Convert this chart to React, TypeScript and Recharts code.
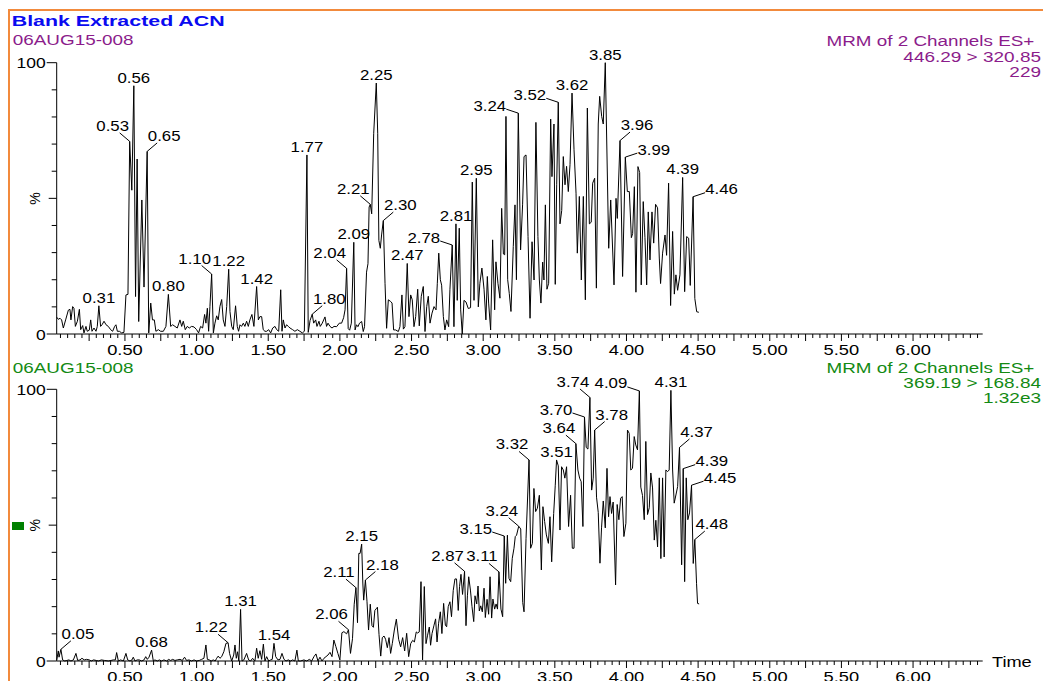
import React from "react";
import { LineChart, Line, XAxis, YAxis, LabelList } from "recharts";

type Pt = [number, number, string?];

// Top trace: MRM 446.29 > 320.85  (time, % intensity, peak label)
const TOP_TRACE: Pt[] = [
  [0.024, 6.2], [0.035, 5.4], [0.047, 5.8], [0.058, 5.2], [0.07, 2.2], [0.086, 5.2], [0.105, 8.8],
  [0.116, 9.1], [0.123, 5.2], [0.135, 10.1], [0.144, 9.5], [0.154, 2.8], [0.168, 4.7], [0.182, 9.1],
  [0.191, 1.6], [0.205, 3.1], [0.214, 0.4], [0.228, 2.8], [0.237, 1], [0.251, 1.4], [0.261, 5.2],
  [0.27, 1], [0.284, 2.2], [0.298, 1], [0.307, 2.8], [0.318, 10.4, "0.31"], [0.33, 2.8], [0.34, 3.4],
  [0.354, 4.7], [0.368, 3.4], [0.384, 2.8], [0.4, 1.6], [0.414, 1], [0.428, 2.8], [0.437, 3.4],
  [0.447, 1], [0.461, 1], [0.477, 0.4], [0.493, 0.6], [0.507, 14.4], [0.521, 14.6], [0.533, 71, "0.53"],
  [0.548, 53], [0.562, 91.5, "0.56"], [0.574, 13.8], [0.585, 64.5], [0.596, 4.6], [0.618, 49.4],
  [0.633, 17.3], [0.655, 67.3, "0.65"], [0.666, 0.4], [0.68, 11.4], [0.692, 5.2], [0.705, 5.2],
  [0.716, 1], [0.733, 1.6], [0.749, 1], [0.768, 1], [0.786, 2.8], [0.803, 14.6, "0.80"], [0.819, 2.8],
  [0.833, 3.4], [0.849, 2.8], [0.865, 2.2], [0.884, 5.2], [0.896, 2.8], [0.907, 4.7], [0.921, 1.6],
  [0.935, 2.8], [0.949, 2.2], [0.965, 2.8], [0.982, 2.6], [1.0, 1.6], [1.014, 0.4], [1.028, 2.8],
  [1.042, 2.2], [1.056, 7.2], [1.065, 4], [1.075, 9.5], [1.084, 1], [1.093, 10.1], [1.105, 22.1, "1.10"],
  [1.117, 0.4], [1.128, 4], [1.14, 6.7], [1.151, 5.2], [1.163, 10.2], [1.175, 12.7], [1.186, 5.2],
  [1.198, 2.8], [1.21, 10.1], [1.224, 23.9, "1.22"], [1.233, 8.3], [1.245, 2.8], [1.256, 1.6],
  [1.272, 10.4], [1.284, 2.8], [1.293, 1], [1.303, 3.4], [1.314, 2.8], [1.326, 4], [1.337, 2.8],
  [1.349, 4.7], [1.361, 2.8], [1.372, 5.2], [1.386, 7.2], [1.4, 2.8], [1.419, 17.5, "1.42"], [1.431, 5.2],
  [1.442, 6.4], [1.454, 6.4], [1.465, 1.6], [1.477, 1], [1.489, 1], [1.503, 1.6], [1.517, 0.4],
  [1.531, 2.2], [1.547, 2.8], [1.559, 1.6], [1.573, 1], [1.587, 16.3], [1.596, 1], [1.605, 5.2],
  [1.617, 2.2], [1.628, 3.4], [1.64, 2.8], [1.652, 2.2], [1.67, 1.6], [1.686, 1], [1.703, 1.6],
  [1.721, 1], [1.738, 0.4], [1.752, 1], [1.77, 66, "1.77"], [1.779, 0.6], [1.792, 5], [1.807, 7.3, "1.80"],
  [1.817, 4], [1.831, 5.2], [1.84, 2.8], [1.854, 4.7], [1.863, 2.8], [1.877, 4], [1.896, 6.3],
  [1.907, 2.8], [1.917, 4], [1.931, 2.8], [1.945, 2.2], [1.959, 2.8], [1.977, 2.7], [1.996, 4],
  [2.012, 4], [2.026, 6], [2.036, 8.9], [2.047, 24.2, "2.04"], [2.058, 2], [2.068, 1.4], [2.08, 4],
  [2.097, 33.8, "2.09"], [2.106, 1.5], [2.116, 3.4], [2.126, 2.7], [2.137, 4], [2.152, 4.6], [2.163, 0.9],
  [2.172, 2.7], [2.186, 22.8], [2.196, 25.9], [2.204, 46.8], [2.212, 47.8, "2.21"], [2.222, 44.3],
  [2.236, 74], [2.254, 92.5, "2.25"], [2.264, 74], [2.272, 34.5], [2.282, 31.6], [2.291, 36.5],
  [2.303, 41.8, "2.30"], [2.315, 18.7], [2.326, 2.1], [2.338, 12.6], [2.354, 12], [2.364, 11.4],
  [2.375, 1.5], [2.389, 1.5], [2.408, 0.9], [2.419, 2.7], [2.433, 14.4], [2.443, 1.8], [2.454, 2.7],
  [2.47, 26, "2.47"], [2.482, 6.4], [2.494, 14.4], [2.505, 12.6], [2.517, 2.7], [2.529, 6.4],
  [2.543, 16.5], [2.554, 3], [2.568, 13.9], [2.582, 17.5], [2.594, 0.9], [2.606, 10.1], [2.617, 13.9],
  [2.629, 4], [2.643, 7.7], [2.657, 10.1], [2.671, 8.9], [2.68, 18.7], [2.69, 29.8], [2.701, 20],
  [2.71, 18], [2.722, 6.4], [2.733, 1.5], [2.745, 5.2], [2.759, 2.7], [2.768, 16.5], [2.784, 32.8, "2.78"],
  [2.796, 2.7], [2.81, 40.6, "2.81"], [2.819, 12.4], [2.833, 39], [2.843, 8.9], [2.854, 0], [2.866, 12.4],
  [2.88, 11.8], [2.896, 9.4], [2.912, 9.7], [2.924, 56], [2.936, 12.4], [2.952, 57.4, "2.95"],
  [2.966, 10], [2.977, 18.7], [2.991, 24.3], [3.006, 16.5], [3.019, 5.2], [3.029, 21.2], [3.038, 11.4],
  [3.052, 1.5], [3.066, 34.7], [3.08, 8.9], [3.089, 26.6], [3.103, 18.7], [3.117, 13.2], [3.129, 46.3],
  [3.141, 29.5], [3.15, 29.2], [3.159, 80.2], [3.171, 20], [3.182, 15], [3.194, 8.3], [3.21, 32.2],
  [3.222, 47.6], [3.232, 20], [3.245, 81.4, "3.24"], [3.261, 31], [3.275, 47.6], [3.285, 65.4],
  [3.299, 66], [3.313, 35.9], [3.327, 5.8], [3.341, 34], [3.355, 19.9], [3.368, 78], [3.382, 36],
  [3.392, 19.9], [3.403, 11.4], [3.415, 26.5], [3.424, 19.9], [3.434, 47.6], [3.445, 16.5],
  [3.457, 18.7], [3.471, 79.2], [3.48, 58], [3.494, 77.4], [3.503, 18.3], [3.513, 55],
  [3.524, 85.4, "3.52"], [3.536, 40.6], [3.548, 45.5], [3.559, 65.4], [3.571, 55], [3.582, 61.8],
  [3.594, 52.5], [3.606, 62.5], [3.62, 88.8, "3.62"], [3.634, 67.9], [3.648, 51.9], [3.657, 29.8],
  [3.671, 50.7], [3.685, 19.9], [3.699, 50.7], [3.713, 12.6], [3.727, 83.3], [3.741, 40.6],
  [3.754, 41.2], [3.764, 55.6], [3.778, 57.4], [3.79, 16.9], [3.803, 77.4], [3.813, 87.6],
  [3.827, 80.2], [3.838, 77.4], [3.852, 100, "3.85"], [3.876, 31.6], [3.89, 49.4], [3.913, 18.1],
  [3.927, 50], [3.936, 42.6], [3.955, 71.3, "3.96"], [3.973, 21.2], [3.992, 65.2, "3.99"], [4.006, 52.5],
  [4.02, 52.5], [4.034, 35.5], [4.043, 37], [4.055, 54.3], [4.066, 15.4], [4.08, 61.7], [4.092, 59.5],
  [4.103, 18.1], [4.117, 48.8], [4.129, 35.5], [4.141, 18.1], [4.152, 45], [4.164, 27.3], [4.178, 45],
  [4.19, 33.5], [4.203, 47.8], [4.217, 46.5], [4.229, 28], [4.238, 18.6], [4.252, 29.8], [4.269, 36.5],
  [4.28, 29], [4.294, 55.6], [4.308, 10.5], [4.322, 37.8], [4.334, 14.7], [4.345, 21.8], [4.357, 16.1],
  [4.373, 21.8], [4.392, 57.7, "4.39"], [4.406, 15.6], [4.42, 35.9], [4.434, 35.3], [4.445, 17.9],
  [4.465, 50.6, "4.46"], [4.477, 13.1], [4.49, 8.2], [4.505, 8],
];

// Bottom trace: MRM 369.19 > 168.84
const BOTTOM_TRACE: Pt[] = [
  [0.024, 0.4], [0.035, 3.7], [0.04, 1.4], [0.053, 4.3, "0.05"], [0.065, 0.4], [0.08, 0], [0.095, 0.2],
  [0.109, 0.4], [0.123, 0], [0.14, 0.4], [0.158, 2.8], [0.17, 0.2], [0.186, 0.4], [0.2, 1], [0.216, 0.4],
  [0.232, 0.6], [0.251, 0.4], [0.265, 0], [0.281, 0.4], [0.3, 0.2], [0.316, 0], [0.335, 0.4],
  [0.358, 0.2], [0.384, 0], [0.403, 0.2], [0.419, 0.4], [0.433, 0.4], [0.442, 3.1], [0.454, 0],
  [0.47, 0.4], [0.489, 0], [0.507, 2.8], [0.519, 0.4], [0.535, 0], [0.549, 0.4], [0.558, 1.4],
  [0.57, 0], [0.586, 0.4], [0.6, 0.4], [0.617, 0], [0.633, 0.4], [0.645, 1.6], [0.656, 0.6],
  [0.668, 1.4], [0.686, 4, "0.68"], [0.698, 0], [0.709, 0.4], [0.726, 0], [0.74, 0.4], [0.756, 0],
  [0.772, 0.4], [0.791, 0], [0.805, 0.6], [0.819, 0.2], [0.833, 0.6], [0.849, 0.2], [0.865, 0.4],
  [0.884, 0.6], [0.9, 0.2], [0.916, 1.4], [0.93, 0.2], [0.947, 0.4], [0.965, 0], [0.982, 0.4],
  [1.0, 0], [1.019, 0.2], [1.035, 0.6], [1.051, 1], [1.065, 5.9], [1.075, 0.6], [1.088, 0.4],
  [1.102, 0], [1.116, 0.4], [1.13, 0], [1.14, 1], [1.151, 1.8], [1.163, 1], [1.175, 1.6], [1.19, 3.4],
  [1.205, 6.5], [1.22, 6.7, "1.22"], [1.23, 2.8], [1.245, 0], [1.259, 2.2], [1.268, 5.9], [1.277, 1],
  [1.286, 3.4], [1.295, 0], [1.307, 19, "1.31"], [1.317, 0], [1.33, 0.4], [1.349, 2.8], [1.363, 0.4],
  [1.377, 0], [1.391, 1], [1.407, 0], [1.419, 4.7], [1.43, 1], [1.442, 3.8], [1.454, 0.6], [1.466, 6.2],
  [1.477, 0], [1.489, 1.6], [1.503, 0], [1.517, 0.4], [1.528, 0.6], [1.54, 6.5, "1.54"], [1.552, 1.6],
  [1.568, 0.4], [1.582, 0.6], [1.596, 2.8], [1.61, 0.6], [1.624, 0], [1.64, 0.4], [1.656, 0],
  [1.67, 0.4], [1.686, 0], [1.7, 4], [1.71, 0], [1.726, 0], [1.749, 0.4], [1.768, 0], [1.787, 0.6],
  [1.803, 0], [1.819, 1.6], [1.833, 2.6], [1.847, 0], [1.861, 1.4], [1.875, 0], [1.889, 1],
  [1.903, 1.6], [1.917, 2.2], [1.931, 3.2], [1.945, 1.6], [1.958, 7.7], [1.972, 5.3], [1.986, 2.8],
  [2.0, 0.4], [2.014, 10.4], [2.028, 10.8], [2.047, 10], [2.06, 11.5, "2.06"], [2.074, 2.8],
  [2.088, 8.2], [2.1, 20.9], [2.112, 27, "2.11"], [2.123, 14.1], [2.132, 39.6], [2.141, 39.6],
  [2.152, 43, "2.15"], [2.16, 28.7], [2.166, 22.4], [2.178, 29.8, "2.18"], [2.189, 22], [2.2, 11.4],
  [2.212, 20.9], [2.224, 13], [2.234, 12.4], [2.244, 18.6], [2.253, 19.2], [2.262, 19.8], [2.273, 9.8],
  [2.285, 1.8], [2.296, 8.6], [2.308, 9.2], [2.319, 8], [2.331, 4.9], [2.343, 8.6], [2.354, 2.8],
  [2.366, 6.5], [2.38, 11.4], [2.394, 15.4], [2.41, 8], [2.424, 5.2], [2.438, 8.6], [2.452, 3.7],
  [2.466, 10.2], [2.48, 1.6], [2.494, 6.4], [2.508, 7.6], [2.52, 7], [2.533, 10.7], [2.542, 10.3],
  [2.554, 10.7], [2.566, 29.2], [2.577, 0.4], [2.589, 27.4], [2.601, 6.4], [2.612, 9.5], [2.624, 12.5],
  [2.633, 5.8], [2.643, 10.1], [2.657, 13.2], [2.668, 15.5], [2.678, 7], [2.689, 13.9], [2.701, 18.1],
  [2.712, 10.1], [2.724, 21.2], [2.736, 13.2], [2.745, 12.6], [2.756, 20], [2.768, 21.8], [2.779, 16.3],
  [2.791, 25.9], [2.803, 30.2], [2.814, 30.2], [2.826, 18.6], [2.835, 27.4], [2.845, 31.9],
  [2.856, 24.5], [2.87, 33, "2.87"], [2.88, 13], [2.89, 24], [2.899, 31], [2.911, 26.1], [2.922, 20],
  [2.934, 14.5], [2.943, 24], [2.955, 21], [2.964, 27.6], [2.973, 18.4], [2.983, 20.3], [2.994, 18.1],
  [3.006, 26.8], [3.015, 16], [3.027, 22.7], [3.038, 17.2], [3.048, 31], [3.059, 15.8], [3.068, 22.8],
  [3.08, 19.1], [3.09, 21], [3.1, 19.1], [3.11, 32.8, "3.11"], [3.124, 19.1], [3.136, 16.3],
  [3.147, 46, "3.15"], [3.157, 28.6], [3.169, 46.3], [3.18, 30.4], [3.192, 29.2], [3.203, 37.8],
  [3.215, 41.5], [3.224, 45.8], [3.233, 46.3], [3.248, 49.6, "3.24"], [3.262, 48.6], [3.276, 21.5],
  [3.285, 18.1], [3.299, 45], [3.32, 74, "3.32"], [3.331, 41.5], [3.343, 43.3], [3.354, 63.5],
  [3.366, 55], [3.378, 56.2], [3.392, 61], [3.406, 33.5], [3.417, 56.8], [3.429, 51.3], [3.441, 46.4],
  [3.455, 43.3], [3.466, 53.1], [3.478, 36.5], [3.492, 54.3], [3.503, 64.7], [3.512, 74, "3.51"],
  [3.524, 71.8], [3.536, 48.2], [3.547, 71.5], [3.559, 70.3], [3.57, 67.3], [3.582, 71.5], [3.596, 49.5],
  [3.61, 61], [3.622, 41.5], [3.634, 41.5], [3.647, 80, "3.64"], [3.661, 70.3], [3.673, 67.3],
  [3.684, 66], [3.696, 49.5], [3.707, 89.8, "3.70"], [3.719, 78.6], [3.731, 78], [3.745, 97, "3.74"],
  [3.757, 62.9], [3.768, 67.3], [3.778, 85, "3.78"], [3.791, 60.3], [3.803, 54.7], [3.815, 36],
  [3.826, 49], [3.838, 58.9], [3.852, 49], [3.864, 70.9], [3.875, 53.1], [3.885, 60.5], [3.896, 54.3],
  [3.907, 58.5], [3.924, 28], [3.935, 57.6], [3.947, 52], [3.959, 59.9], [3.97, 60.5], [3.982, 45.8],
  [3.996, 50.7], [4.007, 85], [4.019, 83.8], [4.03, 70.3], [4.042, 70.9], [4.054, 82.6], [4.065, 79.5],
  [4.077, 77.7], [4.09, 99.4, "4.09"], [4.1, 64], [4.112, 60.9], [4.124, 52], [4.135, 80.8],
  [4.147, 53.9], [4.159, 56.4], [4.17, 69.2], [4.182, 63.7], [4.194, 44.5], [4.205, 51.8], [4.217, 42],
  [4.229, 67.4], [4.24, 37.7], [4.252, 67.4], [4.263, 38.3], [4.275, 70.3], [4.287, 69.7],
  [4.298, 70.3], [4.31, 99.6, "4.31"], [4.322, 70.3], [4.333, 58.1], [4.345, 61.1], [4.357, 64.2],
  [4.37, 78.6, "4.37"], [4.385, 35.4], [4.396, 70.8, "4.39"], [4.406, 29.2], [4.417, 67.4], [4.428, 52],
  [4.44, 54.5], [4.454, 64.7, "4.45"], [4.466, 35.9], [4.477, 44.7, "4.48"], [4.489, 28.6],
  [4.496, 21.2], [4.507, 21],
];

const X_TICK_LABELS = ["0.50", "1.00", "1.50", "2.00", "2.50", "3.00", "3.50", "4.00", "4.50", "5.00", "5.50", "6.00"];
const Y_TICKS = [0, 10, 20, 30, 40, 50, 60, 70, 80, 90, 100];
const X_DOMAIN: [number, number] = [0.0237, 6.486];

// label placement per peak (c = above, ul/ur = diagonal leader, l/r = side leader)
const TOP_SIDES: Record<string, string> = {
  "0.53": "ul", "0.65": "ur", "1.10": "ul", "1.80": "ur", "2.04": "ul", "2.21": "ul", "2.30": "ur",
  "2.78": "l", "3.24": "l", "3.52": "l", "3.96": "ur", "3.99": "r", "4.46": "r",
};
const BOTTOM_SIDES: Record<string, string> = {
  "0.05": "ur", "1.22": "ul", "2.06": "ul", "2.11": "ul", "2.18": "ur", "2.87": "ul", "3.11": "ul",
  "3.15": "l", "3.24": "ul", "3.32": "ul", "3.64": "ul", "3.70": "l", "3.74": "ul", "3.78": "ur",
  "4.09": "l", "4.37": "ur", "4.39": "r", "4.45": "r", "4.48": "ur",
};

const FONT = "'Liberation Sans', Arial, Helvetica, sans-serif";

const xTicks: number[] = [];
for (let i = 1; i <= 129; i++) xTicks.push(Math.round(i * 5) / 100);

const toRows = (pts: Pt[]) => pts.map(([t, v, lab]) => ({ t, v, lab }));
const topData = toRows(TOP_TRACE);
const bottomData = toRows(BOTTOM_TRACE);

function XTick(props: any) {
  const { x, y, payload } = props;
  const q = Math.round(payload.value * 100);
  const major = q % 25 === 0;
  const lab = X_TICK_LABELS.find((s) => Math.round(parseFloat(s) * 100) === q);
  return (
    <g>
      <line x1={x} x2={x} y1={y} y2={y + (major ? 7 : 4)} stroke="#000" strokeWidth={1} />
      {lab && (
        <text transform={`translate(${x},${y + 21}) scale(1.22,1)`} textAnchor="middle" fontSize={15} fontFamily={FONT} fill="#000">
          {lab}
        </text>
      )}
    </g>
  );
}

function YTick(props: any) {
  const { x, y, payload } = props;
  const v = payload.value;
  const end = v === 0 || v === 100;
  const len = end ? 10 : v === 50 ? 8 : 5;
  return (
    <g>
      <line x1={x - len} x2={x} y1={y} y2={y} stroke="#000" strokeWidth={1} />
      {end && (
        <text transform={`translate(${x - 11},${y + 5.5}) scale(1.25,1)`} textAnchor="end" fontSize={14} fontFamily={FONT} fill="#000">
          {v}
        </text>
      )}
    </g>
  );
}

const makePeakLabel = (sides: Record<string, string>, rows: { lab?: string }[]) => (props: any) => {
  const value = props.value ?? (props.index != null ? rows[props.index]?.lab : undefined);
  if (!value || typeof value !== "string") return null;
  const px = props.viewBox?.x ?? props.x;
  const py = props.viewBox?.y ?? props.y;
  if (px == null || py == null) return null;
  const side = sides[value] || "c";
  let tx = px, ty = py - 3, lead: number[] | null = null;
  if (side === "ul") { tx = px - 17; ty = py - 10.5; lead = [px - 10, py - 8.5]; }
  if (side === "ur") { tx = px + 17; ty = py - 10.5; lead = [px + 10, py - 8.5]; }
  if (side === "l") { tx = px - 28.5; ty = py - 2.5; lead = [px - 12, py - 4]; }
  if (side === "r") { tx = px + 28.5; ty = py - 2.5; lead = [px + 12, py - 4]; }
  return (
    <g>
      {lead && <line x1={px} y1={py} x2={lead[0]} y2={lead[1]} stroke="#000" strokeWidth={1} />}
      <text transform={`translate(${tx},${ty}) scale(1.2,1)`} textAnchor="middle" fontSize={14} fontFamily={FONT} fill="#000">
        {value}
      </text>
    </g>
  );
};

function Panel(props: { data: any[]; sides: Record<string, string>; height: number; top: number; axisH: number }) {
  const { data, sides, height, top, axisH } = props;
  return (
    <LineChart width={1043} height={height} data={data} margin={{ top, right: 60.3, left: 0, bottom: 0 }}>
      <XAxis
        dataKey="t"
        type="number"
        domain={X_DOMAIN}
        ticks={xTicks}
        interval={0}
        height={axisH}
        tickSize={0}
        tickMargin={0}
        tickLine={false}
        axisLine={{ stroke: "#000", strokeWidth: 1 }}
        tick={<XTick />}
      />
      <YAxis
        type="number"
        domain={[0, 100]}
        ticks={Y_TICKS}
        interval={0}
        width={56.7}
        tickSize={0}
        tickMargin={0}
        tickLine={false}
        axisLine={{ stroke: "#000", strokeWidth: 1 }}
        tick={<YTick />}
      />
      <Line type="linear" dataKey="v" stroke="#000" strokeWidth={1} dot={false} activeDot={false} isAnimationActive={false}>
        <LabelList dataKey="lab" content={makePeakLabel(sides, data)} />
      </Line>
    </LineChart>
  );
}

const PURPLE = "#8b1c8b";
const GREEN = "#138a13";

export default function App() {
  const abs: React.CSSProperties = { position: "absolute", left: 0, top: 0 };
  return (
    <div style={{ position: "absolute", left: 0, top: 0, width: 1043, height: 681, overflow: "hidden", background: "#fff" }}>
      <div style={abs}>
        <Panel data={bottomData} sides={BOTTOM_SIDES} height={681} top={389.3} axisH={20} />
      </div>
      <div style={abs}>
        <Panel data={topData} sides={TOP_SIDES} height={364} top={62.7} axisH={30} />
      </div>
      <svg width={1043} height={681} style={{ ...abs, pointerEvents: "none" }}>
        <line x1={8} y1={10} x2={1043} y2={10} stroke="#f28a3c" strokeWidth={2} />
        <line x1={9} y1={9} x2={9} y2={681} stroke="#f28a3c" strokeWidth={2} />
        <text transform="translate(11.7,26) scale(1.38,1)" fontSize={15.5} fontWeight="bold" fontFamily={FONT} fill="#0a0af0">
          Blank Extracted ACN
        </text>
        <text transform="translate(12.7,45) scale(1.35,1)" fontSize={14} fontFamily={FONT} fill={PURPLE}>06AUG15-008</text>
        <text transform="translate(1034.3,45.5) scale(1.3,1)" textAnchor="end" fontSize={14.5} fontFamily={FONT} fill={PURPLE}>MRM of 2 Channels ES+</text>
        <text transform="translate(1041,61.5) scale(1.31,1)" textAnchor="end" fontSize={14.5} fontFamily={FONT} fill={PURPLE}>446.29 &gt; 320.85</text>
        <text transform="translate(1041,77) scale(1.31,1)" textAnchor="end" fontSize={14.5} fontFamily={FONT} fill={PURPLE}>229</text>
        <text transform="translate(40,198.5) rotate(-90)" textAnchor="middle" fontSize={14} fontFamily={FONT} fill="#000">%</text>

        <text transform="translate(12.7,373) scale(1.35,1)" fontSize={14} fontFamily={FONT} fill={GREEN}>06AUG15-008</text>
        <text transform="translate(1034.3,372.5) scale(1.3,1)" textAnchor="end" fontSize={14.5} fontFamily={FONT} fill={GREEN}>MRM of 2 Channels ES+</text>
        <text transform="translate(1041,388.3) scale(1.31,1)" textAnchor="end" fontSize={14.5} fontFamily={FONT} fill={GREEN}>369.19 &gt; 168.84</text>
        <text transform="translate(1041,403.3) scale(1.31,1)" textAnchor="end" fontSize={14.5} fontFamily={FONT} fill={GREEN}>1.32e3</text>
        <rect x={12} y={522} width={12} height={8} fill="#008000" />
        <text transform="translate(40,525.3) rotate(-90)" textAnchor="middle" fontSize={14} fontFamily={FONT} fill="#000">%</text>
        <text transform="translate(992,667) scale(1.3,1)" fontSize={14} fontFamily={FONT} fill="#000">Time</text>
      </svg>
    </div>
  );
}
